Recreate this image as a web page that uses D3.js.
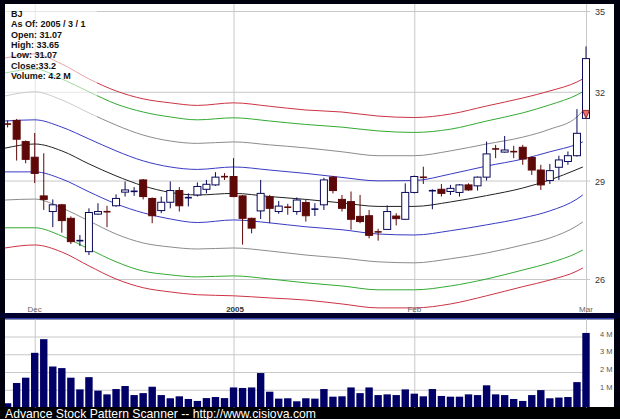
<!DOCTYPE html>
<html><head><meta charset="utf-8">
<script src="https://cdn.jsdelivr.net/npm/d3@7"></script>
<style>body{margin:0;background:#000;} svg{display:block;font-family:"Liberation Sans",Arial,sans-serif;}</style>
</head><body><svg id="c" width="620" height="419"></svg>
<script>
// ---------- DATA ----------
const tradeDates = ["2004-11-26","2004-11-29","2004-11-30",
 "2004-12-01","2004-12-02","2004-12-03","2004-12-06","2004-12-07","2004-12-08","2004-12-09","2004-12-10","2004-12-13","2004-12-14","2004-12-15","2004-12-16","2004-12-17","2004-12-20","2004-12-21","2004-12-22","2004-12-23","2004-12-27","2004-12-28","2004-12-29","2004-12-30","2004-12-31",
 "2005-01-03","2005-01-04","2005-01-05","2005-01-06","2005-01-07","2005-01-10","2005-01-11","2005-01-12","2005-01-13","2005-01-14","2005-01-18","2005-01-19","2005-01-20","2005-01-21","2005-01-24","2005-01-25","2005-01-26","2005-01-27","2005-01-28","2005-01-31",
 "2005-02-01","2005-02-02","2005-02-03","2005-02-04","2005-02-07","2005-02-08","2005-02-09","2005-02-10","2005-02-11","2005-02-14","2005-02-15","2005-02-16","2005-02-17","2005-02-18","2005-02-22","2005-02-23","2005-02-24","2005-02-25","2005-02-28",
 "2005-03-01"];
const openVals  = [30.89,31.00,30.28,29.76,28.51,28.02,28.23,27.81,27.12,26.80,27.94,28.04,28.20,28.63,28.63,29.02,28.43,28.05,28.31,28.68,28.45,28.54,28.72,28.86,29.13,29.13,28.51,27.81,28.04,28.48,28.02,28.18,28.02,28.30,28.09,28.23,29.11,28.40,28.33,27.87,27.89,27.41,27.47,27.88,27.78,28.62,29.13,28.67,28.72,28.65,28.62,28.86,28.83,29.11,30.05,29.93,29.95,30.09,29.75,29.34,29.00,29.43,29.62,29.81,31.07];
const highVals  = [31.00,31.05,30.32,30.57,29.89,28.40,28.26,27.87,27.30,28.12,28.28,28.20,28.56,28.97,28.79,29.05,28.46,28.49,28.97,28.79,28.59,28.94,29.02,29.27,29.24,29.73,28.54,27.83,29.02,28.54,28.35,28.26,28.46,28.38,28.28,29.09,29.15,28.54,28.65,28.54,28.07,27.49,28.21,27.97,28.91,29.16,29.45,28.72,28.89,28.86,28.89,28.91,29.13,30.28,30.17,30.47,30.14,30.17,29.78,29.51,29.54,29.81,29.95,31.39,33.65];
const lowVals   = [30.76,29.65,29.56,28.92,28.07,27.54,27.37,27.03,26.97,26.70,27.92,27.54,28.17,28.49,28.51,28.40,27.66,27.97,28.12,28.02,28.18,28.49,28.59,28.83,29.02,28.47,27.01,27.35,27.79,27.66,27.95,27.92,27.92,27.71,27.88,28.07,28.59,28.02,27.46,27.66,27.20,27.13,27.46,27.59,27.76,28.59,28.89,28.09,28.49,28.54,28.49,28.67,28.68,29.00,29.73,29.91,29.73,29.51,29.18,28.70,28.89,29.02,29.51,29.78,31.07];
const closeVals = [30.86,30.36,29.69,29.23,28.40,28.23,27.74,27.10,27.14,27.99,28.02,27.99,28.43,28.70,28.68,28.49,27.89,28.31,28.68,28.20,28.46,28.81,28.88,29.11,29.12,28.49,27.81,27.51,28.59,28.12,28.19,28.13,28.38,27.89,28.10,29.02,28.68,28.12,27.78,27.71,27.29,27.38,28.02,27.80,28.62,29.13,29.08,28.68,28.59,28.75,28.86,28.70,29.11,29.87,30.02,30.00,29.94,29.70,29.34,28.86,29.32,29.67,29.81,30.56,33.20];
// volume in millions
const volumeVals = [0.24,1.38,1.68,3.08,3.85,2.31,2.22,1.68,1.02,1.71,0.95,0.74,1.04,1.21,0.70,0.81,1.17,0.70,0.52,0.63,0.48,0.37,0.53,0.59,0.53,1.13,1.10,1.13,1.94,0.89,0.50,0.52,0.35,0.52,0.50,1.04,0.61,0.63,1.13,0.81,1.13,0.70,0.74,0.70,1.02,0.78,0.63,1.04,0.65,0.61,0.61,0.74,0.70,1.25,0.74,0.70,0.48,0.37,0.70,0.98,0.52,0.56,0.59,1.43,4.20];

// envelope lines, sampled at trading-day positions
const bandPos    = [-0.3,3,6,9,12,15,18,21,25,29,33,37,41,45,49,53,57,60,63,63.65];
const centerLine = [30.06,30.20,29.97,29.54,29.15,28.83,28.62,28.54,28.59,28.49,28.40,28.29,28.18,28.18,28.32,28.52,28.76,29.02,29.36,29.44];
const blueUpper  = [30.98,31.02,30.77,30.37,29.97,29.64,29.44,29.36,29.44,29.34,29.23,29.10,28.99,29.00,29.21,29.47,29.70,29.94,30.19,30.27];
const grayUpper  = [31.85,32.00,31.71,31.26,30.84,30.50,30.30,30.22,30.27,30.17,30.07,29.94,29.81,29.81,29.97,30.20,30.43,30.70,31.12,31.33];
const greenUpper = [32.67,32.82,32.46,32.00,31.57,31.29,31.12,31.02,31.09,30.98,30.86,30.77,30.64,30.59,30.70,30.98,31.26,31.54,31.89,32.00];
const redUpper   = [33.22,33.37,33.00,32.46,32.03,31.75,31.61,31.52,31.61,31.49,31.36,31.29,31.15,31.10,31.22,31.50,31.78,32.03,32.35,32.46];
const blueLower  = [29.28,29.28,29.05,28.64,28.26,27.98,27.79,27.68,27.76,27.67,27.55,27.46,27.33,27.30,27.43,27.61,27.82,28.04,28.41,28.54];
const grayLower  = [28.38,28.41,28.13,27.73,27.33,27.06,26.94,26.88,26.91,26.82,26.70,26.61,26.50,26.47,26.59,26.76,27.00,27.21,27.58,27.70];
const greenLower = [27.52,27.52,27.27,26.88,26.50,26.23,26.12,26.06,26.09,26.00,25.89,25.80,25.69,25.69,25.80,26.00,26.26,26.47,26.76,26.85];
const redLower   = [26.91,27.00,26.79,26.38,26.00,25.75,25.63,25.55,25.52,25.46,25.40,25.29,25.18,25.18,25.29,25.52,25.78,25.97,26.23,26.32];

const priceTicks = [26,29,32,35];
const volumeTicks = [1,2,3,4];
const monthIdx = [3,25,45,64];
const monthLabels = ["Dec","2005","Feb","Mar"];
const legendLines = ["BJ","As Of: 2005 / 3 / 1","Open: 31.07","High: 33.65","Low: 31.07","Close:33.2","Volume: 4.2 M"];
const footerText = "Advance Stock Pattern Scanner -- http://www.cisiova.com";

// ---------- LAYOUT ----------
const W=620,H=419;
const L=5,R=614,mainTop=4,mainBot=313,volTop=319.5,volBot=407.5,gridRight=590;
const svg=d3.select('#c');
svg.append('rect').attr('width',W).attr('height',H).attr('fill','#00000e');
svg.append('rect').attr('x',L).attr('y',mainTop).attr('width',R-L).attr('height',mainBot-mainTop).attr('fill','#fff');
svg.append('rect').attr('x',0).attr('y',mainBot).attr('width',W).attr('height',5).attr('fill','#00002e');
svg.append('rect').attr('x',L).attr('y',318).attr('width',R-L).attr('height',1.5).attr('fill','#3344b0');
svg.append('rect').attr('x',L).attr('y',volTop).attr('width',R-L).attr('height',volBot-volTop-0.5).attr('fill','#fff');
svg.append('rect').attr('x',0).attr('y',volBot-0.5).attr('width',W).attr('height',H-volBot).attr('fill','#000');

const defs=svg.append('defs');
defs.append('clipPath').attr('id','mainClip').append('rect').attr('x',L).attr('y',mainTop).attr('width',R-L).attr('height',mainBot-mainTop);
defs.append('clipPath').attr('id','volClip').append('rect').attr('x',L).attr('y',volTop).attr('width',R-L).attr('height',volBot-volTop-0.5);

const x=d3.scaleLinear().domain([0,64]).range([7.6,586]);
const y=d3.scaleLog().domain([26,35]).range([279,11]);
const yv=d3.scaleLinear().domain([0,4]).range([volBot,336.5]);

// vertical grid (main)
const gx=svg.append('g').attr('transform',`translate(0,${mainTop})`)
  .call(d3.axisBottom(x).tickValues(monthIdx).tickSize(mainBot-mainTop).tickFormat(''));
gx.select('.domain').remove();
gx.selectAll('line').attr('stroke','#c8c8c8');
// vertical grid (volume)
const gxv=svg.append('g').attr('transform',`translate(0,${volTop})`)
  .call(d3.axisBottom(x).tickValues(monthIdx).tickSize(volBot-volTop).tickFormat(''));
gxv.select('.domain').remove();
gxv.selectAll('line').attr('stroke','#c8c8c8');

// price axis + horizontal grid
const ay=svg.append('g').attr('transform',`translate(${gridRight},0)`)
  .call(d3.axisRight(y).tickValues(priceTicks).tickSize(-(gridRight-L)).tickPadding(5).tickFormat(d3.format('d')));
ay.select('.domain').remove();
ay.selectAll('line').attr('stroke','#c8c8c8');
ay.selectAll('text').attr('fill','#333').attr('font-size','9px').attr('font-family','"Liberation Sans",Arial,sans-serif').attr('dy','0.4em');

// volume axis + grid
const av=svg.append('g').attr('transform',`translate(${gridRight},0)`)
  .call(d3.axisRight(yv).tickValues(volumeTicks).tickSize(-(gridRight-L)).tickPadding(10).tickFormat(d=>d+' M'));
av.select('.domain').remove();
av.selectAll('line').attr('stroke','#c8c8c8');
av.selectAll('text').attr('fill','#555').attr('font-size','7.5px').attr('font-family','"Liberation Sans",Arial,sans-serif').attr('dy','-0.05em');

// envelope lines
const gl=svg.append('g').attr('clip-path','url(#mainClip)');
const lineGen=d3.line().x(d=>x(d[0])).y(d=>y(d[1])).curve(d3.curveMonotoneX);
const bands=[[redUpper,'#cc3344'],[greenUpper,'#33aa33'],[grayUpper,'#8c8c8c'],[blueUpper,'#3a3ac4'],[centerLine,'#222'],
             [blueLower,'#3a3ac4'],[grayLower,'#8c8c8c'],[greenLower,'#33aa33'],[redLower,'#cc3344']];
bands.forEach(([vals,col])=>{
  gl.append('path').datum(bandPos.map((p,i)=>[p,vals[i]])).attr('d',lineGen)
    .attr('fill','none').attr('stroke',col).attr('stroke-width',1);
});

// candles
const gc=svg.append('g').attr('clip-path','url(#mainClip)');
const upCol='#0a0a5a', dnCol='#5e0808';
openVals.forEach((o,i)=>{
  const c=closeVals[i], h=highVals[i], l=lowVals[i];
  const up=c>=o, col=up?upCol:dnCol, cx=x(i);
  gc.append('line').attr('x1',cx).attr('x2',cx).attr('y1',y(h)).attr('y2',y(l)).attr('stroke',col).attr('stroke-width',1);
  const y1=y(Math.max(o,c)), y2=y(Math.min(o,c));
  if(y2-y1<2){
    gc.append('line').attr('x1',cx-3.5).attr('x2',cx+3.5).attr('y1',(y1+y2)/2).attr('y2',(y1+y2)/2).attr('stroke',col).attr('stroke-width',1.6);
  } else {
    gc.append('rect').attr('x',cx-3.5).attr('y',y1).attr('width',7).attr('height',y2-y1)
      .attr('fill',up?'#fff':dnCol).attr('stroke',col).attr('stroke-width',1);
  }
});
// marker on last candle
{
  const i=openVals.length-1, cx=x(i), yo=y(openVals[i]);
  gc.append('path').attr('d',`M${cx-3.5},${yo-8}L${cx+3.5},${yo-8}L${cx},${yo}Z`)
    .attr('fill','#f06a6a').attr('stroke','#7a1010').attr('stroke-width',0.8);
}

// legend
svg.append('rect').attr('x',L).attr('y',mainTop).attr('width',92).attr('height',114).attr('fill','#fff').attr('opacity',0.55);
legendLines.forEach((t,k)=>{
  svg.append('text').attr('x',11).attr('y',16.7+k*10.4).text(t)
    .attr('font-size','9px').attr('font-weight','bold').attr('fill','#111');
});

// month labels
monthLabels.forEach((t,k)=>{
  const yr = t==='2005';
  svg.append('text').attr('x',x(monthIdx[k])+(yr?1.5:0)).attr('y',311.5).attr('text-anchor','middle').text(t)
    .attr('font-size','8px').attr('font-weight',yr?'bold':'normal').attr('fill',yr?'#333':'#666');
});

// volume bars
const gv=svg.append('g').attr('clip-path','url(#volClip)');
volumeVals.forEach((v,i)=>{
  gv.append('rect').attr('x',x(i)-3.7).attr('width',7.4).attr('y',yv(v)).attr('height',volBot-yv(v)).attr('fill','#000066');
});

// footer
const ft=svg.append('text').attr('x',5).attr('y',417.5).text(footerText).attr('fill','#fff').attr('font-size','12.5px');
const fw=ft.node().getComputedTextLength();
ft.attr('font-size',(12.5*311/fw).toFixed(2)+'px');
</script></body></html>
